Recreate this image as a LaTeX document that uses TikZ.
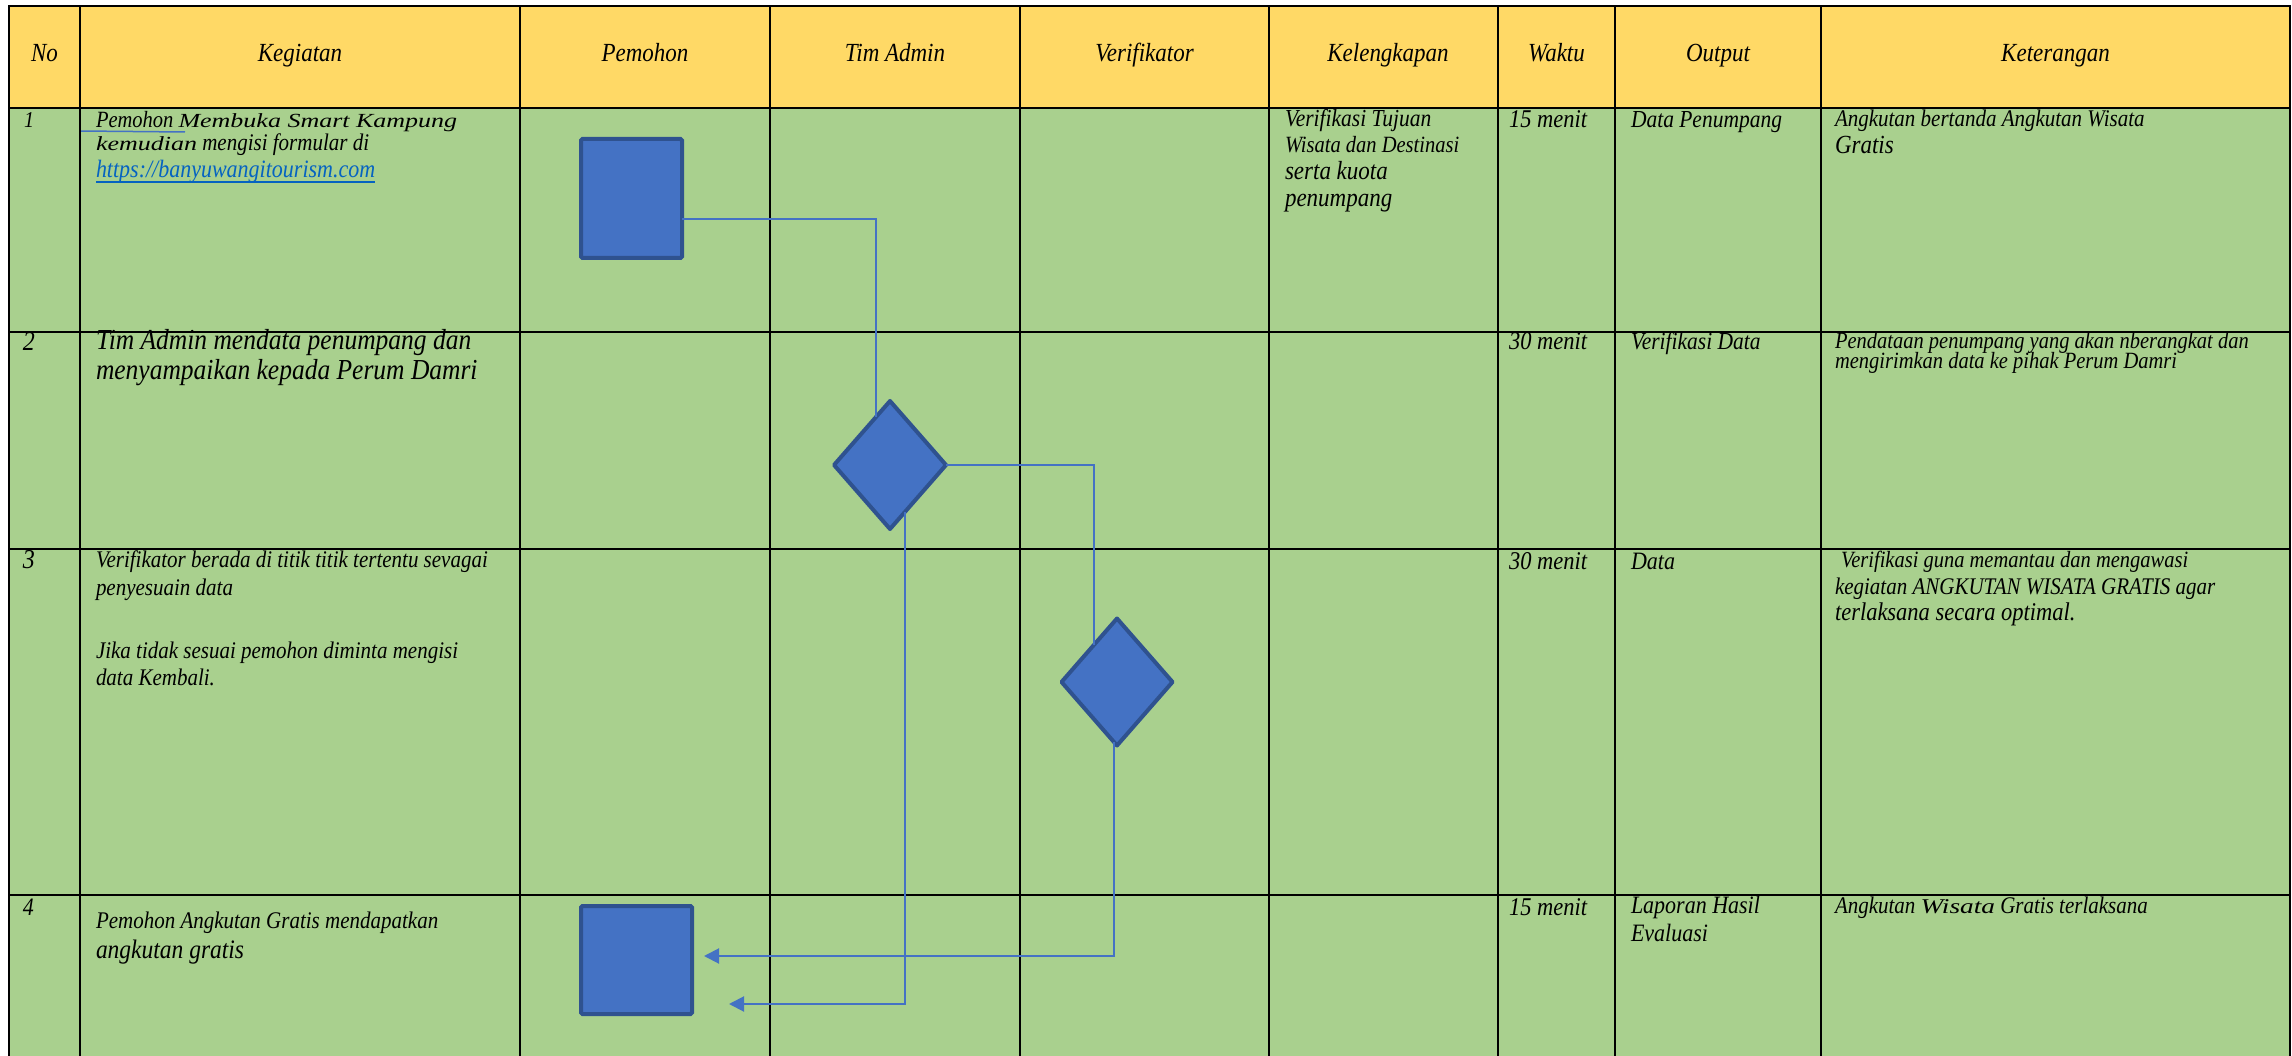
\documentclass[tikz,border=0pt]{standalone}
\usepackage{fontspec}
\setmainfont[FakeStretch=0.88]{Liberation Serif}
\newfontfamily\widefont[FakeStretch=1.3]{Liberation Serif}
\usetikzlibrary{shapes.geometric,arrows.meta,calc}
\definecolor{hdr}{HTML}{FFD966}
\definecolor{bod}{HTML}{A9D08E}
\definecolor{shp}{HTML}{4472C4}
\definecolor{bdr}{HTML}{2F528F}
\definecolor{lnk}{HTML}{4472C4}
\definecolor{urlc}{HTML}{0563C1}
\newcommand\txf[1]{\fontsize{\fpeval{#1*1.136}}{\fpeval{#1*1.136}}\selectfont\itshape}
\newcommand\wfnt[1]{\widefont\itshape\fontsize{#1}{#1}\selectfont}
\begin{document}
\begin{tikzpicture}[x=1pt,y=-1pt,
  grid/.style={line width=2.5pt, black, line cap=rect},
  tx/.style={anchor=base west, inner sep=0pt, outer sep=0pt},
  hd/.style={anchor=base, inner sep=0pt, outer sep=0pt, font=\txf{23}},
  box/.style={draw=bdr, fill=shp, line width=4pt, inner sep=0pt, outer sep=0pt, rounded corners=1.5pt},
  dia/.style={diamond, draw=bdr, fill=shp, line width=4pt, inner sep=0pt, outer sep=0pt, line join=round},
  conn/.style={draw=lnk, line width=2pt},
  arr/.style={conn, -{Triangle[length=15pt,width=15pt]}}
]
\useasboundingbox (0,0) rectangle (2292,1056);
\fill[white] (0,0) rectangle (2292,1056);
% backgrounds
\fill[hdr] (9,6) rectangle (2290,108);
\fill[bod] (9,108) rectangle (2290,1056);

% ---------- texts ----------
% header
\node[hd] (hNo)  at (44.5,62)  {No};
\node[hd] (hKeg) at (300,62)   {Kegiatan};
\node[hd] (hPem) at (645,62)   {Pemohon};
\node[hd] (hTim) at (895,62)   {Tim Admin};
\node[hd] (hVer) at (1144.5,62){Verifikator};
\node[hd] (hKel) at (1388,62)  {Kelengkapan};
\node[hd] (hWak) at (1556.5,62){Waktu};
\node[hd] (hOut) at (1718,62)  {Output};
\node[hd] (hKet) at (2055.5,62){Keterangan};

% row 1
\node[tx, font=\txf{20}] (n1) at (24,128) {1};
\node[tx, font=\txf{20.5}] (k1a) at (96,128) {Pemohon {\wfnt{20}Membuka Smart Kampung}};
\node[tx, font=\txf{21}] (k1b) at (96,151) {{\wfnt{20}kemudian} mengisi formular di};
\node[tx, font=\txf{22}, text=urlc] (k1c) at (96,178) {https://banyuwangitourism.com};
\draw[urlc, line width=1.5pt] ($(k1c.base west)+(0,4)$) -- ($(k1c.base east)+(0,4)$);
\draw[lnk, line width=1.5pt] (80,131) -- (185,132);
\node[tx, font=\txf{21.5}] (l1a) at (1285,127) {Verifikasi Tujuan};
\node[tx, font=\txf{20.5}] (l1b) at (1285,153) {Wisata dan Destinasi};
\node[tx, font=\txf{23}] (l1c) at (1285,180) {serta kuota};
\node[tx, font=\txf{23}] (l1d) at (1285,207) {penumpang};
\node[tx, font=\txf{22.5}] (w1) at (1509,128) {15 menit};
\node[tx, font=\txf{21.5}] (o1) at (1631,128) {Data Penumpang};
\node[tx, font=\txf{21}] (e1a) at (1835,127) {Angkutan bertanda Angkutan Wisata};
\node[tx, font=\txf{23}] (e1b) at (1835,154) {Gratis};

% row 2
\node[tx, font=\txf{24}] (n2) at (23,351) {2};
\node[tx, font=\txf{25.5}] (k2a) at (96,350) {Tim Admin mendata penumpang dan};
\node[tx, font=\txf{25.5}] (k2b) at (96,380) {menyampaikan kepada Perum Damri};
\node[tx, font=\txf{22.5}] (w2) at (1509,350) {30 menit};
\node[tx, font=\txf{21.5}] (o2) at (1631,350) {Verifikasi Data};
\node[tx, font=\txf{20.5}] (e2a) at (1835,349) {Pendataan penumpang yang akan nberangkat dan};
\node[tx, font=\txf{20.5}] (e2b) at (1835,369) {mengirimkan data ke pihak Perum Damri};

% row 3
\node[tx, font=\txf{24}] (n3) at (23,568) {3};
\node[tx, font=\txf{21}] (k3a) at (96,567) {Verifikator berada di titik titik tertentu sevagai};
\node[tx, font=\txf{21}] (k3b) at (96,595) {penyesuain data};
\node[tx, font=\txf{21}] (k3c) at (96,658) {Jika tidak sesuai pemohon diminta mengisi};
\node[tx, font=\txf{21}] (k3d) at (96,685) {data Kembali.};
\node[tx, font=\txf{22.5}] (w3) at (1509,569) {30 menit};
\node[tx, font=\txf{22}] (o3) at (1631,569) {Data};
\node[tx, font=\txf{20.5}] (e3a) at (1841,567) {Verifikasi guna memantau dan mengawasi};
\node[tx, font=\txf{21}] (e3b) at (1835,594) {kegiatan ANGKUTAN WISATA GRATIS agar};
\node[tx, font=\txf{22.5}] (e3c) at (1835,620) {terlaksana secara optimal.};

% row 4
\node[tx, font=\txf{22}] (n4) at (23,915) {4};
\node[tx, font=\txf{21}] (k4a) at (96,928) {Pemohon Angkutan Gratis mendapatkan};
\node[tx, font=\txf{23.5}] (k4b) at (96,958) {angkutan gratis};
\node[tx, font=\txf{22.5}] (w4) at (1509,915) {15 menit};
\node[tx, font=\txf{22}] (o4a) at (1631,913) {Laporan Hasil};
\node[tx, font=\txf{22}] (o4b) at (1631,941) {Evaluasi};
\node[tx, font=\txf{21}] (e4) at (1835,913) {Angkutan {\wfnt{21}Wisata} Gratis terlaksana};

% ---------- grid ----------
\foreach \yy in {6,108,332,549,895}
  \draw[grid] (9,\yy) -- (2290,\yy);
\foreach \xx in {9,80,520,770,1020,1269,1498,1615,1821,2290}
  \draw[grid] (\xx,6) -- (\xx,1056);

% ---------- flow shapes ----------
\node[box, minimum width=101pt, minimum height=119pt] (r1) at (631.5,198.5) {};
\node[dia, minimum width=112pt, minimum height=128pt] (d1) at (890,465) {};
\node[dia, minimum width=111pt, minimum height=127pt] (d2) at (1117,682) {};
\node[box, minimum width=111pt, minimum height=108pt] (r2) at (636.5,960) {};

\coordinate (p1) at ($(d1.north)!0.25!(d1.west)$);
\coordinate (p2) at ($(d2.north)!0.42!(d2.west)$);
\coordinate (q1) at ($(d1.south)!0.26!(d1.east)$);
\coordinate (q2) at ($(d2.south)!0.05!(d2.west)$);
\coordinate (a1) at ($(r2.east)+(12,-4)$);
\coordinate (a2) at ($(r2.east)+(37,44)$);

\draw[conn] ($(r1.east)+(0,20.5)$) -| (p1);
\draw[conn] (d1.east) -| (p2);
\draw[arr] (q2) |- (a1);
\draw[arr] (q1) |- (a2);
\end{tikzpicture}
\end{document}
